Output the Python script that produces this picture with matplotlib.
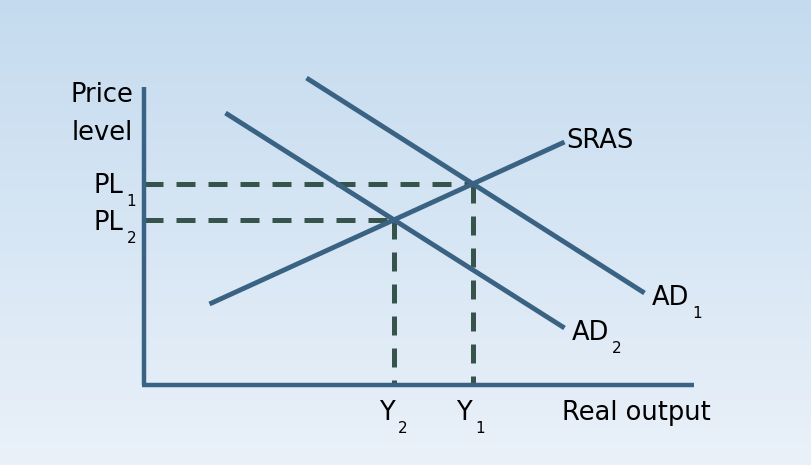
import matplotlib
matplotlib.use("Agg")
import matplotlib.pyplot as plt
import numpy as np

# diagram units: origin at the corner of the axes
sras = np.array([[6.5, 8.1], [42.0, 24.3]])
ad1 = np.array([[16.2, 30.7], [50.0, 9.2]])
ad2 = np.array([[8.1, 27.2], [42.0, 5.7]])
y_axis_top = 29.8
x_axis_right = 55.0

curve_labels = [("SRAS", ""), ("AD", "1"), ("AD", "2")]
price_labels = [("PL", "1"), ("PL", "2")]
output_labels = [("Y", "1"), ("Y", "2")]
x_title = "Real output"
y_title = ["Price", "level"]

line_col = "#3a6283"
dash_col = "#37544c"


def intersect(a, b):
    ma = (a[1, 1] - a[0, 1]) / (a[1, 0] - a[0, 0])
    mb = (b[1, 1] - b[0, 1]) / (b[1, 0] - b[0, 0])
    x = (b[0, 1] - a[0, 1] + ma * a[0, 0] - mb * b[0, 0]) / (ma - mb)
    return x, a[0, 1] + ma * (x - a[0, 0])


eq1 = intersect(sras, ad1)
eq2 = intersect(sras, ad2)

fig = plt.figure(figsize=(8.11, 4.65), dpi=100)

# background gradient
bg = fig.add_axes([0, 0, 1, 1])
bg.axis('off')
top = np.array([196, 219, 239]) / 255
bot = np.array([234, 241, 249]) / 255
t = np.linspace(0, 1, 256)[:, None]
grad = (top * (1 - t) + bot * t)[:, None, :]
bg.imshow(grad, aspect='auto', extent=[0, 1, 0, 1])

ax = fig.add_axes([0, 0, 1, 1])
ax.set_xlim(-14.45, 66.65)
ax.set_ylim(-8.0, 38.5)
ax.axis('off')
ax.patch.set_alpha(0)

fs = 18.5
fs_sub = 11
dash = dict(color=dash_col, lw=3.6, dashes=(3.8, 2.6), solid_capstyle='butt')

# dashed guides
for (ex, ey) in (eq1, eq2):
    ax.plot([0, ex], [ey, ey], **dash)
    ax.plot([ex, ex], [ey, 0], **dash)

# axes
ax.plot([0, 0], [0, y_axis_top], color=line_col, lw=3.2, solid_capstyle='butt')
ax.plot([-0.2, x_axis_right], [0, 0], color=line_col, lw=3.2, solid_capstyle='butt')

# curves
for c in (sras, ad1, ad2):
    ax.plot(c[:, 0], c[:, 1], color=line_col, lw=3.5, solid_capstyle='butt')

labels = []  # (text artist, subscript)


def label(x, y, pair, ha='left'):
    main, sub = pair
    txt = ax.text(x, y, main, fontsize=fs, va='baseline', ha=ha)
    labels.append((txt, sub))


label(sras[1, 0] + 0.15, sras[1, 1] - 0.6, curve_labels[0])
label(ad1[1, 0] + 0.7, ad1[1, 1] - 1.2, curve_labels[1])
label(ad2[1, 0] + 0.7, ad2[1, 1] - 1.2, curve_labels[2])

label(-2.15, eq1[1] - 0.9, price_labels[0], ha='right')
label(-2.15, eq2[1] - 1.0, price_labels[1], ha='right')
label(eq1[0] - 0.85, -3.5, output_labels[0], ha='center')
label(eq2[0] - 0.7, -3.5, output_labels[1], ha='center')

ax.text(41.75, -3.45, x_title, fontsize=fs, va='baseline', ha='left')
ax.text(-1.15, 28.35, y_title[0], fontsize=fs, va='baseline', ha='right')
ax.text(-1.15, 24.5, y_title[1], fontsize=fs, va='baseline', ha='right')

# subscripts: placed under the baseline, just right of the main text
fig.canvas.draw()
renderer = fig.canvas.get_renderer()
for txt, sub in labels:
    if not sub:
        continue
    bb = txt.get_window_extent(renderer)
    base = ax.transData.transform(txt.get_position())[1]
    ax.annotate(sub, xy=(bb.x1, base), xycoords='figure pixels',
                xytext=(2.5, -0.5), textcoords='offset points',
                fontsize=fs_sub, va='top', ha='left')

fig.savefig("out.png", dpi=100)
